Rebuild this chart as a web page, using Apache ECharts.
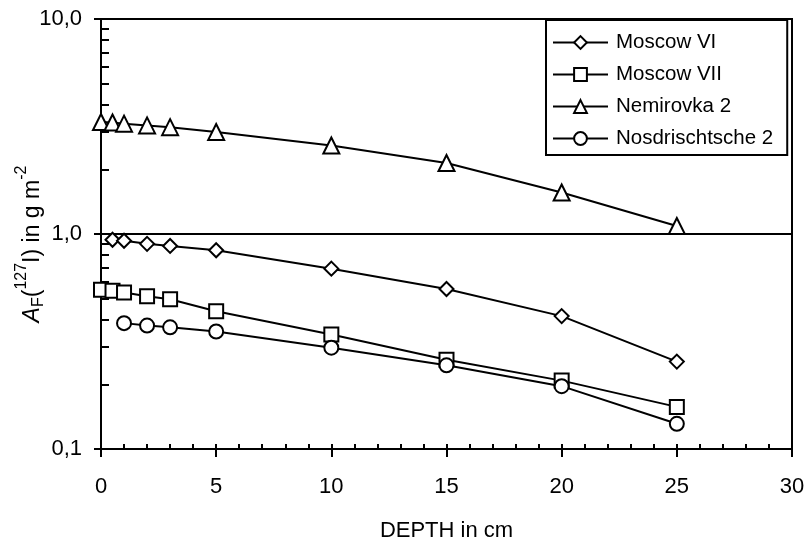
<!DOCTYPE html>
<html><head><meta charset="utf-8">
<script src="https://cdn.jsdelivr.net/npm/echarts@6/dist/echarts.min.js"></script>
<style>html,body{margin:0;padding:0;background:#fff}#c{width:809px;height:544px}</style>
</head><body><div id="c"></div>
<script>
const seriesNames = ['Moscow VI', 'Moscow VII', 'Nemirovka 2', 'Nosdrischtsche 2'];
const symbols = ['diamond', 'rect', 'triangle', 'circle'];
const symbolSizes = [14, 14, 16, 14];
const depthMoscowVI = [0.5, 1, 2, 3, 5, 10, 15, 20, 25];
const valMoscowVI = [0.94, 0.93, 0.90, 0.88, 0.84, 0.69, 0.555, 0.415, 0.255];
const depthMoscowVII = [0, 0.5, 1, 2, 3, 5, 10, 15, 20, 25];
const valMoscowVII = [0.55, 0.545, 0.535, 0.513, 0.497, 0.437, 0.341, 0.26, 0.208, 0.157];
const depthNemirovka = [0, 0.5, 1, 2, 3, 5, 10, 15, 20, 25];
const valNemirovka = [3.32, 3.30, 3.26, 3.20, 3.14, 2.98, 2.58, 2.14, 1.56, 1.09];
const depthNosd = [1, 2, 3, 5, 10, 15, 20, 25];
const valNosd = [0.385, 0.375, 0.368, 0.352, 0.296, 0.245, 0.196, 0.131];
const xTicks = [0, 5, 10, 15, 20, 25, 30];
const yTickLabels = {0.1: '0,1', 1: '1,0', 10: '10,0'};
const yMinorTicks = [0.2,0.3,0.4,0.5,0.6,0.7,0.8,0.9,2,3,4,5,6,7,8,9];

const depths = [depthMoscowVI, depthMoscowVII, depthNemirovka, depthNosd];
const vals = [valMoscowVI, valMoscowVII, valNemirovka, valNosd];
const FONT = '"Liberation Sans", Arial, sans-serif';
const FS = 22;

const chart = echarts.init(document.getElementById('c'));
chart.setOption({
  animation: false,
  backgroundColor: '#fff',
  textStyle: {fontFamily: FONT},
  grid: {left: 101, right: 17, top: 19, bottom: 95, show: true, borderColor: '#000', borderWidth: 2,
    containLabel: false, outerBoundsMode: 'none'},
  legend: {
    data: seriesNames,
    left: 546, top: 20,
    orient: 'vertical',
    backgroundColor: '#fff',
    borderColor: '#000', borderWidth: 2,
    padding: [12, 14, 6, 6],
    itemWidth: 55, itemHeight: 16, itemGap: 11,
    textStyle: {fontFamily: FONT, fontSize: 20.5, lineHeight: 20, color: '#000', padding: [0, 0, 0, 3]}
  },
  xAxis: [{
    type: 'value', min: 0, max: 30, interval: 5, position: 'bottom',
    axisLine: {show: true, onZero: false, lineStyle: {color: '#000', width: 2}},
    axisTick: {show: true, length: 8, lineStyle: {color: '#000', width: 2}},
    axisLabel: {show: true, margin: 27, fontFamily: FONT, fontSize: FS, color: '#000'},
    splitLine: {show: false},
    name: 'DEPTH in cm', nameLocation: 'middle', nameGap: 71, nameMoveOverlap: false,
    nameTextStyle: {fontFamily: FONT, fontSize: FS, color: '#000'}
  }, {
    type: 'value', min: 0, max: 30, interval: 1, position: 'bottom',
    axisLine: {show: false},
    axisTick: {show: true, inside: true, length: 5, lineStyle: {color: '#000', width: 2}},
    axisLabel: {show: false}, splitLine: {show: false}
  }],
  yAxis: [{
    type: 'log', logBase: 10, min: 0.1, max: 10, position: 'left',
    axisLine: {show: true, lineStyle: {color: '#000', width: 2}},
    axisTick: {show: true, length: 7, lineStyle: {color: '#000', width: 2}},
    axisLabel: {show: true, margin: 19, fontFamily: FONT, fontSize: FS, color: '#000',
      formatter: v => yTickLabels[Math.round(v*10)/10] || ''},
    splitLine: {show: true, lineStyle: {color: '#000', width: 2}},
    name: '{a|A}{sub|F}{n|(}{sup|127}{n|I) in g m}{sup|-2}',
    nameLocation: 'middle', nameGap: 57, nameRotate: 90, nameMoveOverlap: false,
    nameTextStyle: {
      fontFamily: FONT, fontSize: 23, color: '#000', padding: [0, 20, 0, 0],
      rich: {
        a: {fontFamily: FONT, fontSize: 23, fontStyle: 'italic', color: '#000', lineHeight: 28, verticalAlign: 'bottom'},
        n: {fontFamily: FONT, fontSize: 23, color: '#000', lineHeight: 28, verticalAlign: 'bottom'},
        sub: {fontFamily: FONT, fontSize: 16, color: '#000', lineHeight: 28, verticalAlign: 'bottom', padding: [0,0,-3,0]},
        sup: {fontFamily: FONT, fontSize: 16, color: '#000', lineHeight: 28, verticalAlign: 'top', padding: [-2,0,0,0]}
      }
    }
  }, {
    type: 'log', logBase: 10, min: 0.1, max: 10, position: 'left',
    axisLine: {show: false},
    axisTick: {show: true, inside: true, length: 8, customValues: yMinorTicks, lineStyle: {color: '#000', width: 2}},
    axisLabel: {show: false}, splitLine: {show: false}
  }],
  series: seriesNames.map((name, i) => ({
    name, type: 'line', xAxisIndex: 0, yAxisIndex: 0,
    data: depths[i].map((d, j) => [d, vals[i][j]]),
    symbol: symbols[i], symbolSize: symbolSizes[i], showAllSymbol: true,
    lineStyle: {color: '#000', width: 2},
    itemStyle: {color: '#fff', borderColor: '#000', borderWidth: 2},
    z: 3
  }))
});
</script></body></html>
